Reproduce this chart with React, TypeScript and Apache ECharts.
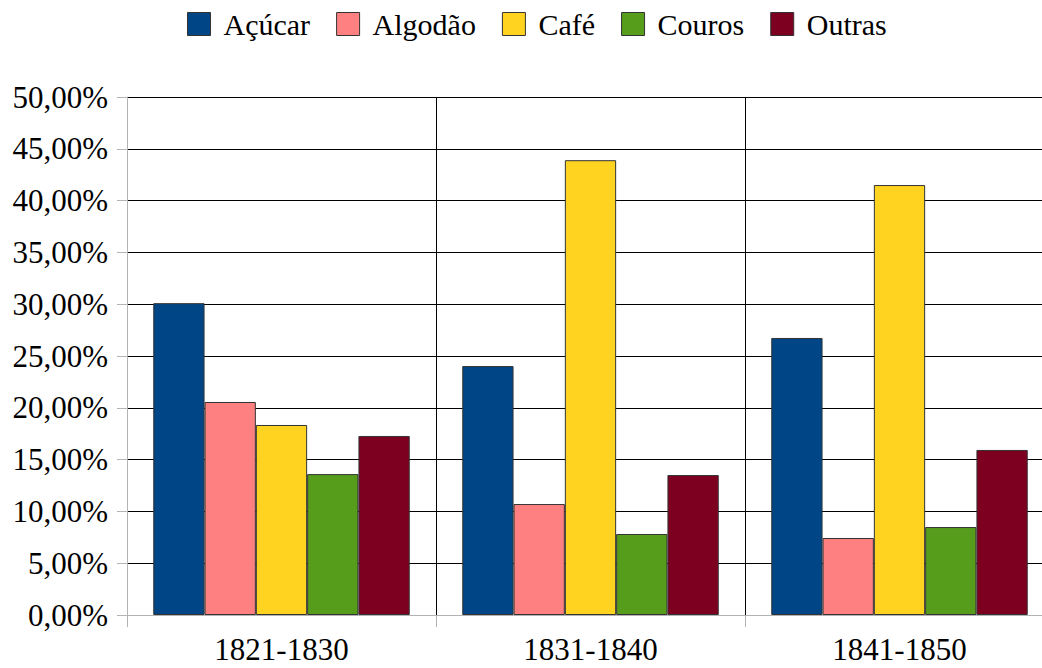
import React, { useEffect, useRef } from "react";
import * as echarts from "echarts";

const categories = ["1821-1830", "1831-1840", "1841-1850"];
const seriesNames = ["Açúcar", "Algodão", "Café", "Couros", "Outras"];
const acucar = [30.1, 24.03, 26.74];
const algodao = [20.56, 10.71, 7.43];
const cafe = [18.34, 43.9, 41.5];
const couros = [13.6, 7.82, 8.49];
const outras = [17.28, 13.51, 15.93];
const seriesValues = [acucar, algodao, cafe, couros, outras];
const colors = ["#004586", "#ff8080", "#ffd320", "#579d1c", "#7e0021"];

const FONT = "Liberation Serif, Times New Roman, Times, serif";

export default function App() {
  const ref = useRef<HTMLDivElement>(null);
  useEffect(() => {
    document.body.style.margin = "0";
    document.body.style.overflow = "hidden";
    const chart = echarts.init(ref.current!, null, { renderer: "svg" });
    chart.setOption({
      animation: false,
      backgroundColor: "#fff",
      textStyle: { fontFamily: FONT },
      legend: {
        left: 187,
        top: 9,
        padding: 0,
        itemWidth: 23,
        itemHeight: 23,
        itemGap: 26,
        icon: "rect",
        data: seriesNames,
        itemStyle: { borderColor: "#333", borderWidth: 1 },
        textStyle: {
          fontFamily: FONT,
          fontSize: 30,
          color: "#000",
          padding: [0, 0, 0, 8],
        },
      },
      grid: { left: 127, right: 6, top: 97, bottom: 53, containLabel: false },
      xAxis: {
        type: "category",
        data: categories,
        axisLine: { lineStyle: { color: "#b3b3b3", width: 1 } },
        axisTick: {
          show: true,
          length: 12,
          lineStyle: { color: "#b3b3b3" },
        },
        splitLine: { show: true, lineStyle: { color: "#000", width: 1 } },
        axisLabel: {
          fontFamily: FONT,
          fontSize: 31,
          color: "#000",
          margin: 19,
        },
      },
      yAxis: {
        type: "value",
        min: 0,
        max: 50,
        interval: 5,
        axisLine: { show: true, lineStyle: { color: "#b3b3b3", width: 1 } },
        axisTick: { show: true, length: 10, lineStyle: { color: "#b3b3b3" } },
        splitLine: { show: true, lineStyle: { color: "#000", width: 1 } },
        axisLabel: {
          fontFamily: FONT,
          fontSize: 31,
          color: "#000",
          margin: 19,
          formatter: (v: number) => v.toFixed(2).replace(".", ",") + "%",
        },
      },
      series: seriesNames.map((name, i) => ({
        name,
        type: "bar",
        data: seriesValues[i],
        barGap: "0%",
        barCategoryGap: "17%",
        itemStyle: { color: colors[i], borderColor: "#333", borderWidth: 1 },
      })),
    });
    return () => chart.dispose();
  }, []);
  return (
    <div
      style={{
        position: "fixed",
        left: 0,
        top: 0,
        width: 1042,
        height: 668,
        overflow: "hidden",
        background: "#fff",
      }}
    >
      <div ref={ref} style={{ width: 1060, height: 668 }} />
    </div>
  );
}
